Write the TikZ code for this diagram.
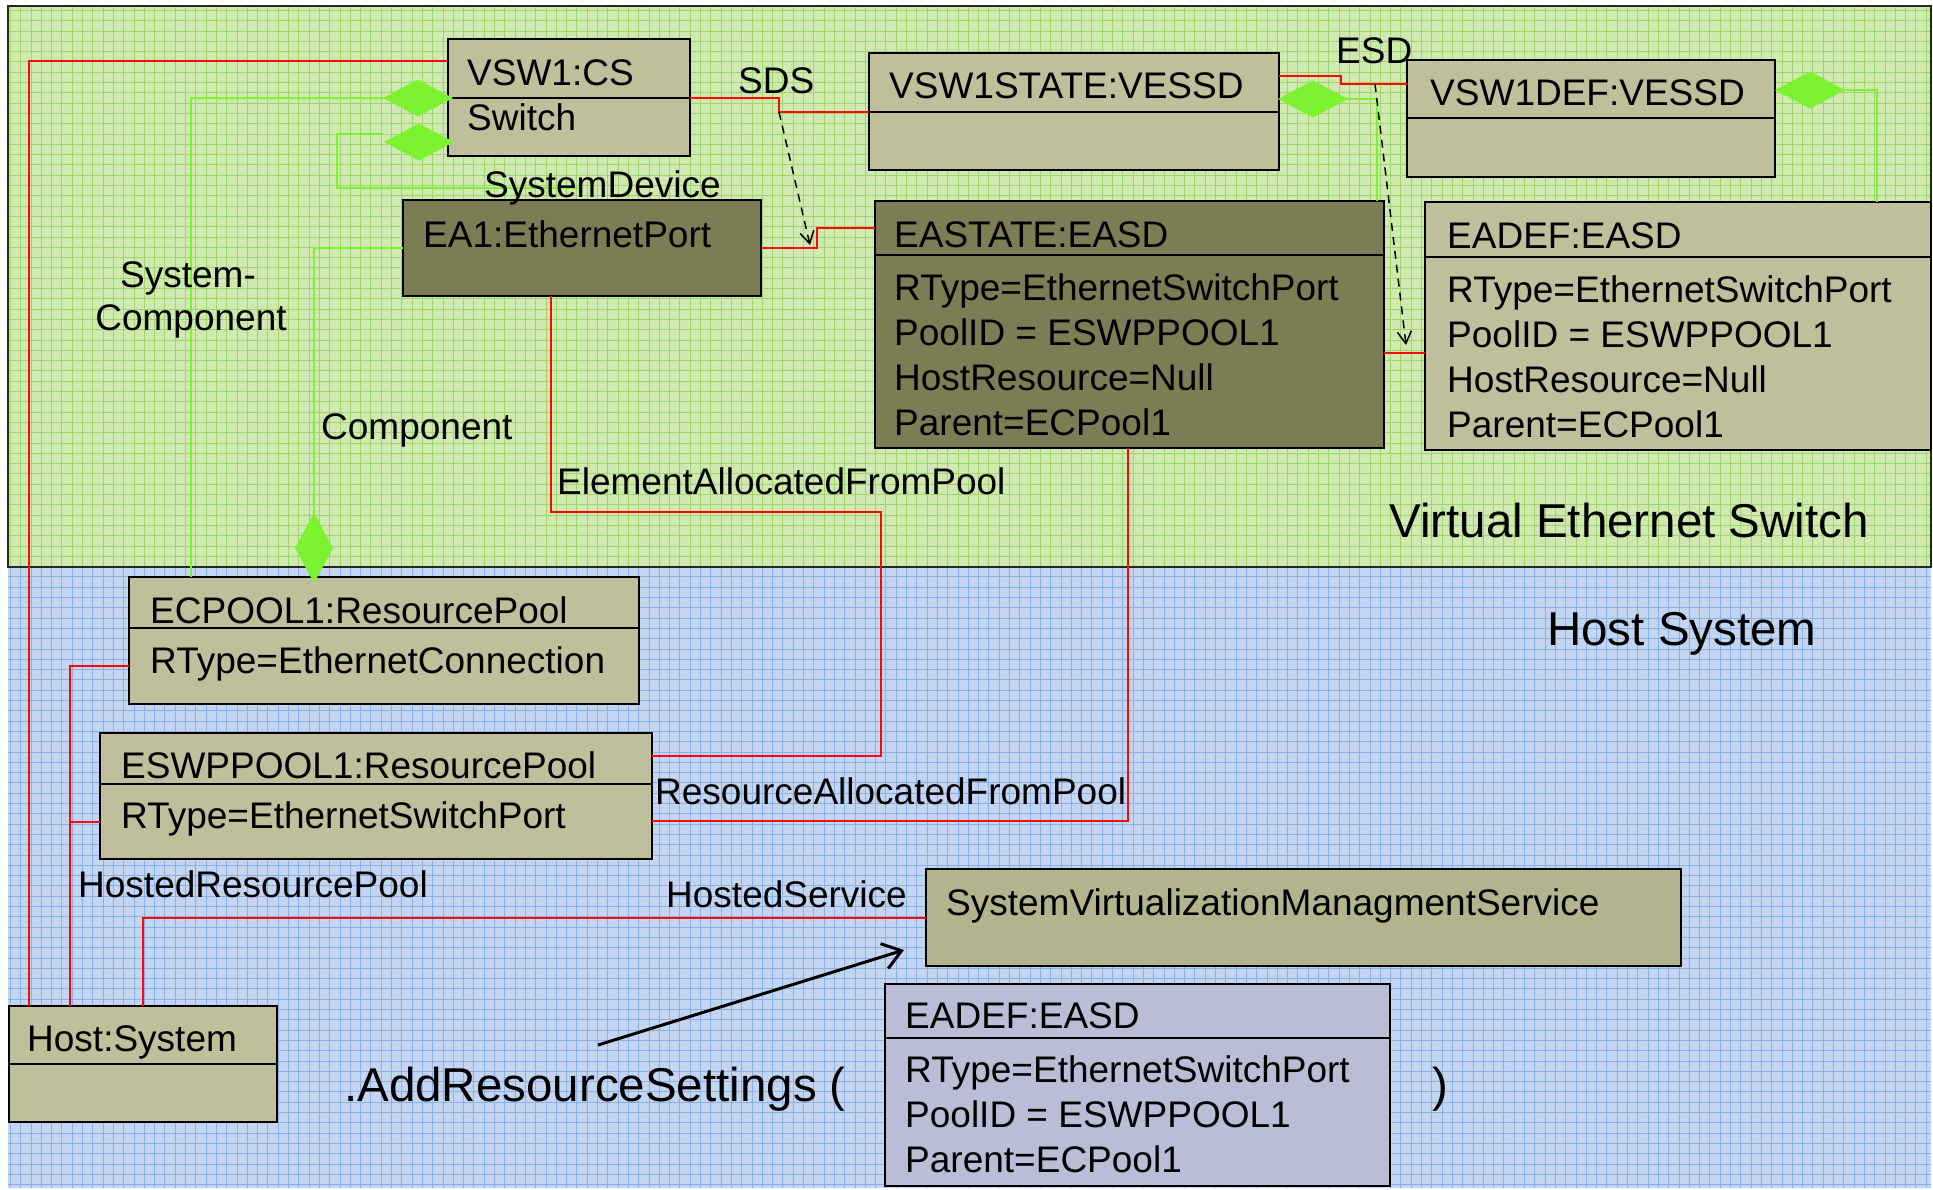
\documentclass[tikz,border=0pt]{standalone}
\usepackage{fontspec}
\setmainfont{Liberation Sans}
\usetikzlibrary{arrows.meta}
\definecolor{bggreen}{RGB}{208,233,176}
\definecolor{gridgreen}{RGB}{160,212,110}
\definecolor{bgblue}{RGB}{195,213,240}
\definecolor{gridblue}{RGB}{138,178,230}
\definecolor{khaki}{RGB}{191,191,155}
\definecolor{darkolive}{RGB}{125,125,85}
\definecolor{svmsfill}{RGB}{177,180,140}
\definecolor{lavender}{RGB}{185,190,214}
\definecolor{lgreen}{RGB}{124,242,48}
\definecolor{lred}{RGB}{252,8,8}
\begin{document}
\begin{tikzpicture}[x=1pt,y=-1pt,
  box/.style={draw=black, line width=2.4pt, fill=khaki, inner sep=0pt, outer sep=0pt, anchor=north west},
  darkbox/.style={box, fill=darkolive},
  divider/.style={draw=black, line width=2.4pt},
  txt/.style={anchor=base west, inner sep=0pt, font=\fontsize{37pt}{44pt}\selectfont},
  bigtxt/.style={anchor=base west, inner sep=0pt, font=\fontsize{47.5pt}{57pt}\selectfont},
  redl/.style={draw=lred, line width=2.5pt},
  grnl/.style={draw=lgreen, line width=2.4pt},
  dasharrow/.style={draw=black, line width=1.5pt, dash pattern=on 8pt off 6pt, -{Straight Barb[length=12pt,width=14pt,line width=1.5pt]}}
]
\useasboundingbox (0,0) rectangle (1933,1189);
% regions
\fill[bggreen] (8,6) rectangle (1931,567);
\draw[gridgreen, line width=0.8pt, step=10.3pt] (8,6) grid (1931,567);
\fill[bgblue] (8,567) rectangle (1931,1188);
\draw[gridblue, line width=0.8pt, step=10.3pt] (8,567) grid (1931,1188);
\draw[draw=black!85, line width=2pt] (8,6) rectangle (1931,567);

% boxes
\node[box, minimum width=242pt, minimum height=117pt] (vsw) at (448,39) {};
\draw[divider] (vsw.west |- 0,98) -- (vsw.east |- 0,98);
\node[box, minimum width=410pt, minimum height=117pt] (vsw1state) at (869,53) {};
\draw[divider] (vsw1state.west |- 0,112) -- (vsw1state.east |- 0,112);
\node[box, minimum width=368pt, minimum height=117pt] (vsw1def) at (1407,60) {};
\draw[divider] (vsw1def.west |- 0,118) -- (vsw1def.east |- 0,118);
\node[darkbox, minimum width=358pt, minimum height=96pt] (ea1) at (403,200) {};
\node[darkbox, minimum width=509pt, minimum height=247pt] (eastate) at (875,201) {};
\draw[divider] (eastate.west |- 0,255) -- (eastate.east |- 0,255);
\node[box, minimum width=506pt, minimum height=248pt] (eadef) at (1425,202) {};
\draw[divider] (eadef.west |- 0,257) -- (eadef.east |- 0,257);
\node[box, minimum width=510pt, minimum height=127pt] (ecpool) at (129,577) {};
\draw[divider] (ecpool.west |- 0,628) -- (ecpool.east |- 0,628);
\node[box, minimum width=552pt, minimum height=126pt] (eswppool) at (100,733) {};
\draw[divider] (eswppool.west |- 0,784) -- (eswppool.east |- 0,784);
\node[box, minimum width=268pt, minimum height=116pt] (host) at (9,1006) {};
\draw[divider] (host.west |- 0,1064) -- (host.east |- 0,1064);
\node[box, fill=svmsfill, minimum width=755pt, minimum height=97pt] (svms) at (926,869) {};
\node[box, fill=lavender, minimum width=505pt, minimum height=202pt] (eadef2) at (885,984) {};
\draw[divider] (eadef2.west |- 0,1038) -- (eadef2.east |- 0,1038);

% red connectors
\draw[redl] (vsw.west |- 0,61) -| (host.north -| 29,0);
\draw[redl] (vsw.east |- 0,98) -- (779,98) |- (vsw1state.west |- 0,112);
\coordinate (sdsbend) at (779,112);
\draw[redl] (vsw1state.east |- 0,76) -- (1341,76) |- (vsw1def.west |- 0,84);
\coordinate (esdbend) at (1375,84);
\draw[redl] (ea1.east |- 0,248) -- (817,248) |- (eastate.west |- 0,228);
\draw[redl] (eastate.east |- 0,353) -- (eadef.west |- 0,353);
\draw[redl] (ea1.south -| 551,0) -- (551,512) -- (881,512) |- (eswppool.east |- 0,756);
\draw[redl] (eastate.south -| 1128,0) |- (eswppool.east |- 0,821);
\coordinate (hrpjoin) at (70,822);
\draw[redl] (ecpool.west |- 0,666) -| (hrpjoin);
\draw[redl] (eswppool.west |- 0,822) -| (host.north -| 70,0);
\draw[redl] (host.north -| 143,0) |- (svms.west |- 0,918);

% green connectors
\draw[grnl] (417,98) -- (191,98) -- (ecpool.north -| 191,0);
\coordinate (sysdevend) at (583,188);
\draw[grnl] (383,134) -- (337,134) -- (337,188) -- (sysdevend);
\draw[grnl] (ea1.west |- 0,248) -| (314,540);
\draw[grnl] (1313,99) -- (1377,99) -- (eastate.north -| 1377,0);
\draw[grnl] (1810,90) -- (1877,90) -- (eadef.north -| 1877,0);

% diamonds
\fill[lgreen] (383,98) -- (418,79.5) -- (453,98) -- (418,116.5) -- cycle;
\fill[lgreen] (384,142) -- (419,123.5) -- (454,142) -- (419,160.5) -- cycle;
\fill[lgreen] (314,513) -- (333,548) -- (314,583) -- (295,548) -- cycle;
\fill[lgreen] (1278,99) -- (1313,80.5) -- (1348,99) -- (1313,117.5) -- cycle;
\fill[lgreen] (1775,90) -- (1810,71.5) -- (1845,90) -- (1810,108.5) -- cycle;

% dashed arrows
\coordinate (sdstip) at (810,245);
\coordinate (esdtip) at (1406,345);
\draw[dasharrow] (sdsbend) -- (sdstip);
\draw[dasharrow] (esdbend) -- (esdtip);

% method call arrow
\coordinate (callstart) at (598,1045);
\coordinate (calltip) at (904,950);
\draw[black, line width=3pt, -{Straight Barb[length=18pt,width=26pt,line width=3pt]}] (callstart) -- (calltip);

% box texts
\node[txt] (t1) at (467,85) {VSW1:CS};
\node[txt] (t2) at (467,130) {Switch};
\node[txt] (t3) at (889,98) {VSW1STATE:VESSD};
\node[txt] (t4) at (1430,105) {VSW1DEF:VESSD};
\node[txt] (t5) at (423,247) {EA1:EthernetPort};
\node[txt] (t6) at (894,247) {EASTATE:EASD};
\node[txt] (t7) at (894,300) {RType=EthernetSwitchPort};
\node[txt] (t8) at (894,345) {PoolID = ESWPPOOL1};
\node[txt] (t9) at (894,390) {HostResource=Null};
\node[txt] (t10) at (894,435) {Parent=ECPool1};
\node[txt] (t11) at (1447,248) {EADEF:EASD};
\node[txt] (t12) at (1447,302) {RType=EthernetSwitchPort};
\node[txt] (t13) at (1447,347) {PoolID = ESWPPOOL1};
\node[txt] (t14) at (1447,392) {HostResource=Null};
\node[txt] (t15) at (1447,437) {Parent=ECPool1};
\node[txt] (t16) at (150,623) {ECPOOL1:ResourcePool};
\node[txt] (t17) at (150,673) {RType=EthernetConnection};
\node[txt] (t18) at (121,778) {ESWPPOOL1:ResourcePool};
\node[txt] (t19) at (121,828) {RType=EthernetSwitchPort};
\node[txt] (t20) at (27,1051) {Host:System};
\node[txt] (t21) at (946,915) {SystemVirtualizationManagmentService};
\node[txt] (t22) at (905,1028) {EADEF:EASD};
\node[txt] (t23) at (905,1082) {RType=EthernetSwitchPort};
\node[txt] (t24) at (905,1127) {PoolID = ESWPPOOL1};
\node[txt] (t25) at (905,1172) {Parent=ECPool1};

% connector labels
\node[txt] (l1) at (738,93) {SDS};
\node[txt] (l2) at (1336,63) {ESD};
\node[txt] (l3) at (484,197) {SystemDevice};
\node[txt, anchor=base] (l4) at (188,287) {System-};
\node[txt, anchor=base] (l5) at (191,330) {Component};
\node[txt] (l6) at (321,439) {Component};
\node[txt] (l7) at (557,494) {ElementAllocatedFromPool};
\node[txt] (l8) at (655,804) {ResourceAllocatedFromPool};
\node[txt] (l9) at (78,897) {HostedResourcePool};
\node[txt] (l10) at (666,907) {HostedService};

% region and call labels
\node[bigtxt] (r1) at (1389,537) {Virtual Ethernet Switch};
\node[bigtxt] (r2) at (1547,645) {Host System};
\node[bigtxt] (c1) at (344,1101) {.AddResourceSettings (};
\node[bigtxt] (c2) at (1432,1101) {)};
\end{tikzpicture}
\end{document}
